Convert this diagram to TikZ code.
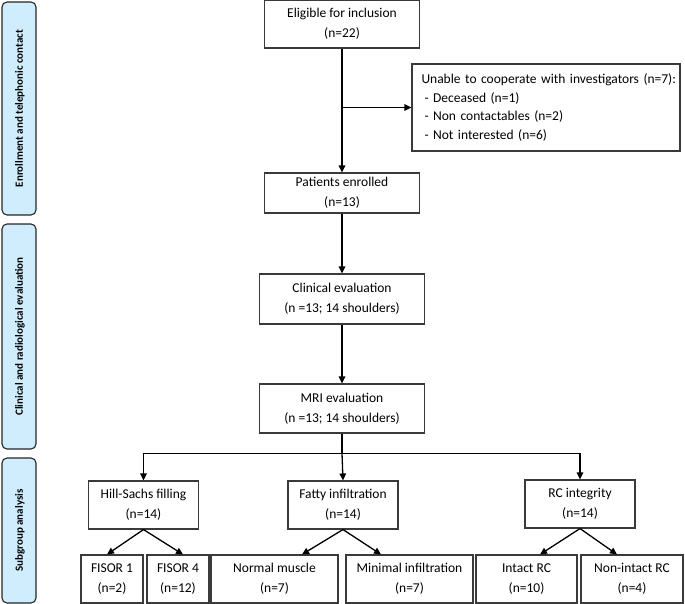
\documentclass[tikz,border=0pt]{standalone}
\usepackage{fontspec}
\setmainfont{Carlito}
\usetikzlibrary{arrows.meta,calc}
\definecolor{bandblue}{HTML}{CFEDFC}
\definecolor{boxline}{HTML}{3A3A3A}
\begin{document}
\begin{tikzpicture}[x=1pt,y=-1pt,
 box/.style={draw=boxline, line width=1.1pt, align=center, inner sep=0pt, font=\fontsize{13.5}{20}\selectfont},
 band/.style={draw=black!85, line width=1.1pt, fill=bandblue, rounded corners=5pt, inner sep=0pt},
 bandtext/.style={rotate=90, font=\fontsize{11}{12}\selectfont\bfseries},
 arr/.style={-{Triangle[length=7pt,width=6.5pt]}, line width=1.3pt},
 ln/.style={line width=1.3pt}]
\useasboundingbox (0,0) rectangle (685,604);
% side bands
\node[band, minimum width=34pt, minimum height=213pt] (b1) at (19,108.5) {};
\node[bandtext] (t1) at ([xshift=1pt]b1.center) {Enrollment and telephonic contact};
\node[band, minimum width=34pt, minimum height=225pt] (b2) at (19,336.5) {};
\node[bandtext] (t2) at ([xshift=1pt]b2.center) {Clinical and radiological evaluation};
\node[band, minimum width=34pt, minimum height=145pt] (b3) at (19,530.5) {};
\node[bandtext] (t3) at ([xshift=1pt]b3.center) {Subgroup analysis};
% main column
\node[box, minimum width=155pt, minimum height=48pt] (elig) at (342,24) {Eligible for inclusion\\(n=22)};
\node[box, minimum width=155pt, minimum height=40pt] (pat) at (342,193) {Patients enrolled\\(n=13)};
\node[box, minimum width=165pt, minimum height=50pt] (clin) at (342,299) {Clinical evaluation\\(n =13; 14 shoulders)};
\node[box, minimum width=165pt, minimum height=49pt] (mri) at (342,408.5) {MRI evaluation\\(n =13; 14 shoulders)};
\node[box, minimum width=268pt, minimum height=87pt, align=left, text width=265pt,
 font=\fontsize{13.5}{18.7}\selectfont] (unable) at (546,107.5)
 {\hspace*{8pt}Unable to cooperate with investigators (n=7):\\
  \hspace*{11pt}- Deceased (n=1)\\
  \hspace*{11pt}- Non contactables (n=2)\\
  \hspace*{11pt}- Not interested (n=6)};
% subgroups
\node[box, minimum width=110pt, minimum height=48pt] (hs) at (143.5,505) {Hill-Sachs filling\\(n=14)};
\node[box, minimum width=110pt, minimum height=48pt] (fat) at (343,505) {Fatty infiltration\\(n=14)};
\node[box, minimum width=110pt, minimum height=48pt] (rc) at (580,504) {RC integrity\\(n=14)};
% leaves
\node[box, minimum width=62pt, minimum height=48pt] (f1) at (112,579) {FISOR 1\\(n=2)};
\node[box, minimum width=62pt, minimum height=48pt] (f4) at (178,579) {FISOR 4\\(n=12)};
\node[box, minimum width=127pt, minimum height=48pt] (nm) at (274.5,579) {Normal muscle\\(n=7)};
\node[box, minimum width=127pt, minimum height=48pt] (mi) at (409.5,579) {Minimal infiltration\\(n=7)};
\node[box, minimum width=101pt, minimum height=48pt] (ir) at (526.5,579) {Intact RC\\(n=10)};
\node[box, minimum width=102pt, minimum height=48pt] (nr) at (632,579) {Non-intact RC\\(n=4)};
% connectors
\draw[arr] (elig.south) -- (pat.north);
\draw[arr] (elig.south |- unable.west) -- (unable.west);
\draw[arr] (pat.south) -- (clin.north);
\draw[arr] (clin.south) -- (mri.north);
\coordinate (br) at ([yshift=-20pt]mri.south);
\draw[ln] (mri.south) -- (br);
\draw[arr] (br) -| (hs.north);
\draw[arr] (br) -| (rc.north);
\draw[arr] (br) -- (fat.north);
\draw[arr] (hs.south) -- ([xshift=-5pt]f1.north);
\draw[arr] (hs.south) -- ([xshift=5pt]f4.north);
\draw[arr] (fat.south) -- ([xshift=27.5pt]nm.north);
\draw[arr] (fat.south) -- ([xshift=-28.5pt]mi.north);
\draw[arr] (rc.south) -- ([xshift=13.5pt]ir.north);
\draw[arr] (rc.south) -- ([xshift=-15pt]nr.north);
\end{tikzpicture}
\end{document}
